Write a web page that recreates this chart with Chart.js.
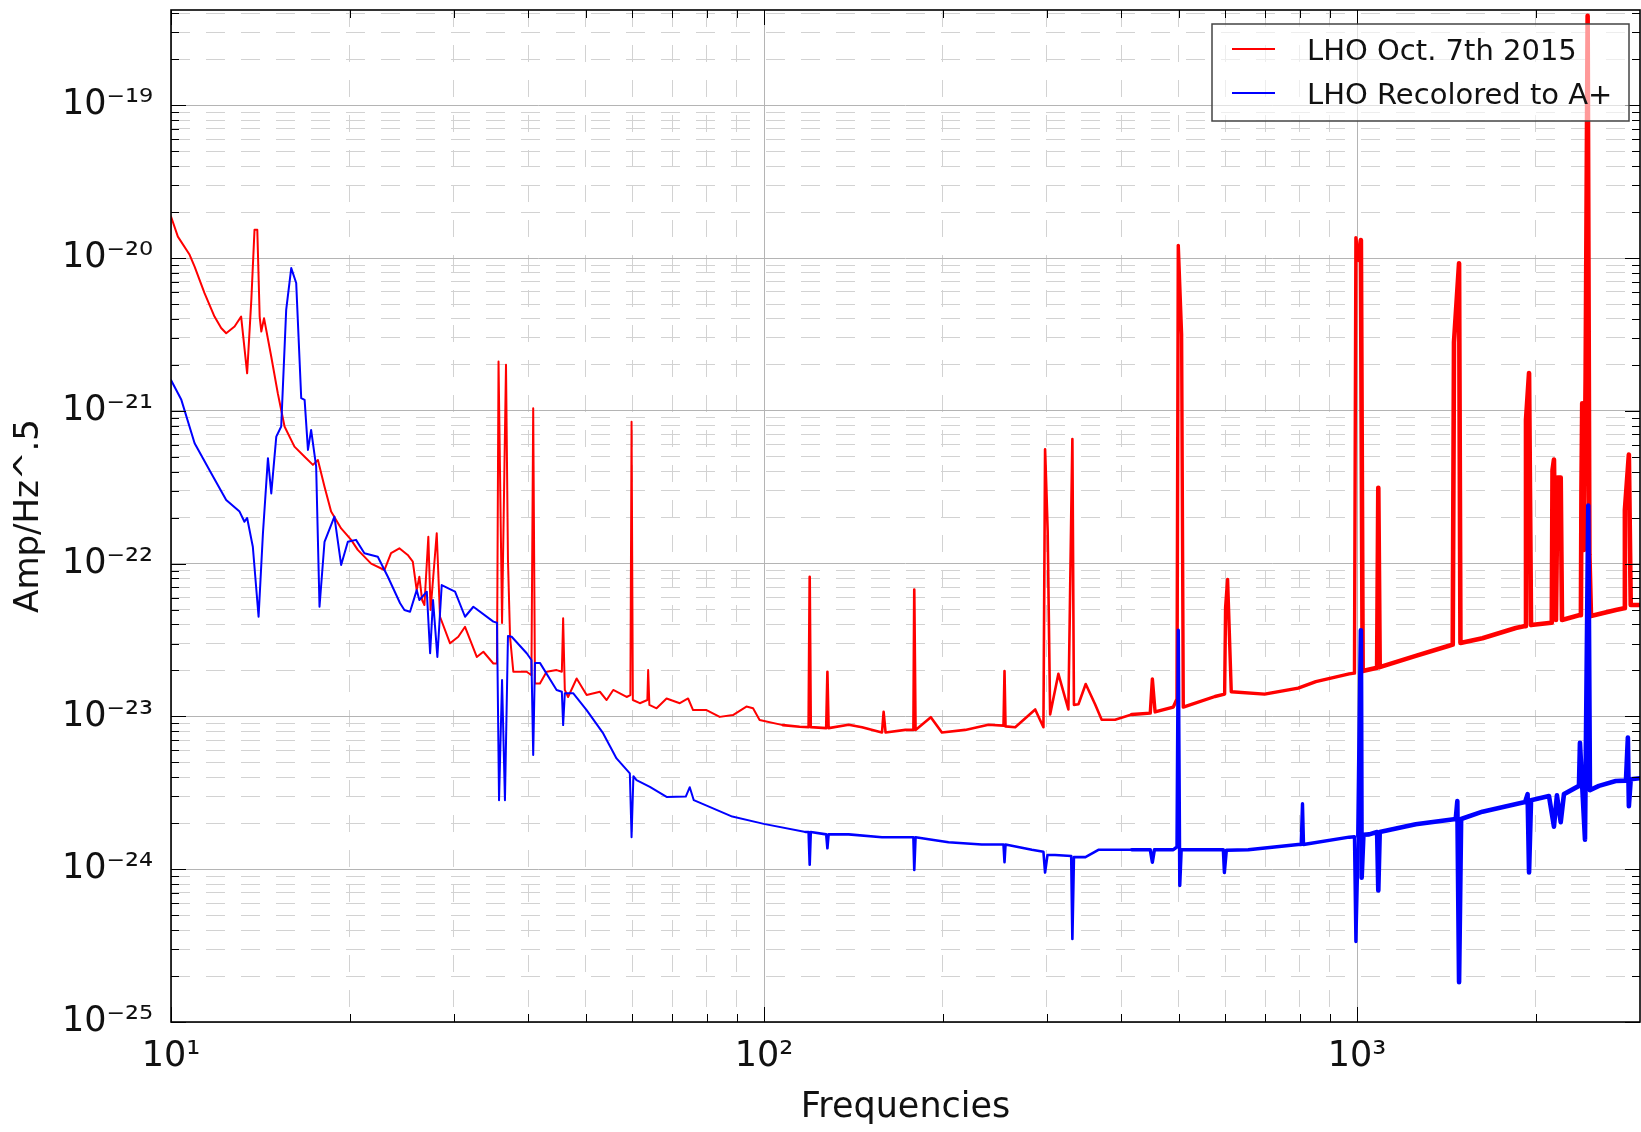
<!DOCTYPE html>
<html>
<head>
<meta charset="utf-8">
<script src="https://cdn.jsdelivr.net/npm/chart.js@4.4.1/dist/chart.umd.min.js"></script>
<style>
  html, body { margin: 0; padding: 0; background: #fff; }
  #wrap { width: 1641px; height: 1132px; }
</style>
</head>
<body>
<div id="wrap"><canvas id="asd" width="1641" height="1132"></canvas></div>
<script>
// ---- data (Hz, strain / sqrt(Hz)) ----
const redLabel = 'LHO Oct. 7th 2015';
const redFreq = [10.0, 10.27, 10.75, 10.96, 11.39, 11.84, 12.15, 12.39, 12.80, 13.13, 13.44, 13.66, 13.83, 13.98, 14.11, 14.20, 14.35, 14.76, 15.14, 15.54,
  16.15, 16.80, 17.35, 17.69, 18.15, 18.62, 19.36, 20.13, 20.65, 21.75, 22.90, 23.50, 24.27, 25.07, 25.57, 25.96, 26.23, 26.51, 26.75, 27.16,
  27.40, 28.06, 28.42, 29.55, 30.51, 31.32, 32.78, 33.63, 34.96, 35.46, 35.67, 36.16, 36.72, 37.0, 37.3, 37.78, 39.79, 40.53, 40.81, 41.09,
  41.89, 42.99, 44.69, 45.61, 45.84, 46.14, 46.73, 48.31, 50.22, 52.87, 54.27, 55.68, 58.65, 59.52, 59.79, 60.09, 61.74, 63.57, 63.77, 64.07,
  65.89, 68.5, 72.11, 74.47, 75.92, 79.99, 84.2, 88.64, 93.39, 95.83, 98.3, 107.6, 114.8, 118.9, 119.4, 119.9, 127.3, 127.9, 128.5, 138.9,
  146.3, 158.1, 159.1, 160.3, 173.1, 178.6, 179.2, 180.1, 191.1, 199.5, 218.4, 239.0, 253.4, 254.4, 255.4, 265.2, 286.6, 295.9, 297.8, 300.8,
  303.7, 313.6, 326.0, 331.1, 333.1, 339.0, 348.7, 361.6, 371.0, 390.8, 416.9, 448, 451.7, 456.5, 489.9, 497, 499.5, 506.0, 509.3, 576.0,
  598, 600.2, 604.9, 613.6, 698.3, 795.8, 852.1, 969.9, 990, 995.5, 1005, 1015, 1022, 1081, 1086, 1092, 1256, 1429, 1450, 1457,
  1486, 1494, 1627, 1852, 1920, 1927, 1950, 1965, 2107, 2130, 2136, 2148, 2165, 2178, 2205, 2216, 2367, 2385, 2390, 2397,
  2413, 2429, 2448, 2465, 2480, 2730, 2820, 2829, 2873, 2894, 3000];
const redAsd = [1.87e-20, 1.38e-20, 1.05e-20, 8.79e-21, 5.89e-21, 4.14e-21, 3.48e-21, 3.22e-21, 3.56e-21, 4.14e-21, 1.76e-21, 5.32e-21, 1.53e-20, 1.53e-20, 4.14e-21, 3.30e-21, 4.04e-21, 2.26e-21, 1.30e-21, 7.89e-22,
  5.83e-22, 5.01e-22, 4.43e-22, 4.77e-22, 3.19e-22, 2.19e-22, 1.70e-22, 1.43e-22, 1.23e-22, 1.00e-22, 9.08e-23, 1.17e-22, 1.26e-22, 1.14e-22, 1.03e-22, 6.71e-23, 8.20e-23, 5.78e-23, 5.36e-23, 1.50e-22,
  4.97e-23, 1.58e-22, 4.49e-23, 3.01e-23, 3.32e-23, 3.86e-23, 2.45e-23, 2.65e-23, 2.22e-23, 2.22e-23, 2.10e-21, 4.08e-23, 2.00e-21, 1.06e-22, 3.32e-23, 1.96e-23, 1.96e-23, 1.86e-23, 1.04e-21, 1.64e-23,
  1.64e-23, 1.96e-23, 2.01e-23, 1.96e-23, 4.39e-23, 1.49e-23, 1.34e-23, 1.77e-23, 1.38e-23, 1.45e-23, 1.28e-23, 1.49e-23, 1.34e-23, 1.38e-23, 8.49e-22, 1.28e-23, 1.22e-23, 1.28e-23, 2.01e-23, 1.19e-23,
  1.13e-23, 1.31e-23, 1.22e-23, 1.31e-23, 1.10e-23, 1.10e-23, 9.93e-24, 1.02e-23, 1.16e-23, 1.13e-23, 9.46e-24, 8.77e-24, 8.55e-24, 8.51e-24, 8.20e-23, 8.51e-24, 8.38e-24, 1.96e-23, 8.38e-24, 8.81e-24,
  8.49e-24, 7.85e-24, 1.07e-23, 7.85e-24, 8.16e-24, 8.16e-24, 6.76e-23, 8.16e-24, 9.89e-24, 7.85e-24, 8.16e-24, 8.81e-24, 8.70e-24, 1.98e-23, 8.60e-24, 8.49e-24, 1.11e-23, 8.49e-24, 5.60e-22, 1.63e-22,
  1.03e-23, 1.90e-23, 1.11e-23, 6.53e-22, 1.19e-23, 1.20e-23, 1.63e-23, 1.20e-23, 9.51e-24, 9.51e-24, 1.03e-23, 1.05e-23, 1.76e-23, 1.07e-23, 1.15e-23, 1.30e-23, 1.21e-20, 3.15e-21, 1.15e-23, 1.35e-23,
  1.40e-23, 5.16e-23, 7.89e-23, 1.45e-23, 1.40e-23, 1.53e-23, 1.69e-23, 1.90e-23, 1.92e-23, 1.36e-20, 9.73e-21, 1.31e-20, 1.98e-23, 2.08e-23, 3.14e-22, 2.10e-23, 2.49e-23, 2.90e-23, 2.95e-23, 2.81e-21,
  9.25e-21, 3.02e-23, 3.25e-23, 3.79e-23, 3.90e-23, 8.71e-22, 1.77e-21, 3.96e-23, 4.09e-23, 4.10e-23, 4.10e-22, 4.80e-22, 4.28e-23, 3.66e-22, 3.66e-22, 4.28e-23, 4.59e-23, 4.60e-23, 3.03e-22, 1.12e-21,
  1.23e-22, 1.64e-21, 3.85e-19, 1.14e-22, 4.54e-23, 4.97e-23, 5.10e-23, 2.24e-22, 5.17e-22, 5.36e-23, 5.36e-23];

const blueLabel = 'LHO Recolored to A+';
const blueFreq = [10.0, 10.41, 10.96, 11.69, 12.39, 13.05, 13.30, 13.44, 13.74, 14.05, 14.29, 14.57, 14.76, 15.05, 15.34, 15.64, 15.95, 16.26, 16.58, 16.80,
  17.02, 17.23, 17.57, 17.80, 18.15, 18.86, 19.36, 19.87, 20.51, 21.19, 22.32, 23.21, 24.34, 24.75, 25.30, 25.96, 26.23, 27.0, 27.35, 27.66,
  28.13, 28.61, 30.13, 31.32, 32.35, 34.96, 35.46, 35.74, 36.16, 36.57, 37.0, 37.54, 39.79, 40.53, 40.81, 41.09, 41.89, 44.69, 45.61, 45.84,
  46.14, 47.65, 50.22, 53.56, 56.40, 59.39, 59.79, 60.22, 60.95, 64.20, 68.5, 73.8, 74.95, 76.13, 88.4, 99.9, 117.5, 118.9, 119.4, 119.9,
  127.3, 127.9, 128.5, 138.9, 158.1, 171.9, 178.6, 179.2, 180.1, 191.9, 204.7, 232.9, 253.4, 254.4, 255.4, 282.9, 295.9, 297.8, 300.6, 309.6,
  329.6, 331.1, 333.1, 348.3, 366.3, 416.9, 448, 451.7, 455.3, 489.9, 497, 499.5, 502.4, 505.2, 539.9, 595, 597.4, 602, 655.5, 795.8,
  805, 809.1, 812.3, 969.9, 990, 995.5, 1005, 1015, 1018, 1025, 1048, 1081, 1086, 1092, 1256, 1467, 1476, 1486, 1498, 1627,
  1920, 1939, 1950, 1965, 2107, 2148, 2173, 2205, 2233, 2367, 2376, 2423, 2454, 2470, 2558, 2730, 2841, 2862, 2873, 2894, 3000];
const blueAsd = [1.59e-21, 1.18e-21, 6.14e-22, 3.90e-22, 2.61e-22, 2.19e-22, 1.88e-22, 1.99e-22, 1.29e-22, 4.49e-23, 1.58e-22, 4.90e-22, 2.88e-22, 6.78e-22, 7.89e-22, 4.58e-21, 8.59e-21, 6.86e-21, 1.21e-21, 1.18e-21,
  5.55e-22, 7.50e-22, 4.31e-22, 5.22e-23, 1.39e-22, 2.03e-22, 9.80e-23, 1.39e-22, 1.43e-22, 1.17e-22, 1.11e-22, 8.20e-23, 5.50e-23, 4.97e-23, 4.84e-23, 6.71e-23, 5.78e-23, 6.55e-23, 2.59e-23, 5.78e-23,
  2.45e-23, 7.24e-23, 6.55e-23, 4.49e-23, 5.22e-23, 4.17e-23, 4.10e-23, 2.83e-24, 1.73e-23, 2.83e-24, 3.36e-23, 3.32e-23, 2.59e-23, 2.34e-23, 5.59e-24, 2.24e-23, 2.24e-23, 1.49e-23, 1.45e-23, 8.77e-24,
  1.42e-23, 1.42e-23, 1.10e-23, 7.74e-24, 5.31e-24, 4.24e-24, 1.62e-24, 4.06e-24, 3.83e-24, 3.46e-24, 2.97e-24, 2.99e-24, 3.44e-24, 2.83e-24, 2.21e-24, 1.98e-24, 1.75e-24, 1.75e-24, 1.07e-24, 1.75e-24,
  1.69e-24, 1.37e-24, 1.69e-24, 1.69e-24, 1.62e-24, 1.62e-24, 1.62e-24, 9.87e-25, 1.62e-24, 1.56e-24, 1.50e-24, 1.45e-24, 1.45e-24, 1.11e-24, 1.45e-24, 1.34e-24, 1.30e-24, 9.51e-25, 1.24e-24, 1.24e-24,
  1.22e-24, 3.49e-25, 1.20e-24, 1.20e-24, 1.34e-24, 1.34e-24, 1.34e-24, 1.11e-24, 1.34e-24, 1.34e-24, 1.40e-24, 3.66e-23, 7.83e-25, 1.34e-24, 1.34e-24, 1.34e-24, 9.51e-25, 1.33e-24, 1.34e-24, 1.45e-24,
  1.45e-24, 2.68e-24, 1.45e-24, 1.62e-24, 1.63e-24, 3.36e-25, 1.65e-24, 3.66e-23, 8.79e-25, 1.68e-24, 1.69e-24, 1.75e-24, 7.25e-25, 1.75e-24, 1.97e-24, 2.13e-24, 2.79e-24, 1.82e-25, 2.13e-24, 2.38e-24,
  2.75e-24, 3.10e-24, 9.51e-25, 2.83e-24, 3.01e-24, 1.90e-24, 3.05e-24, 2.03e-24, 3.10e-24, 3.51e-24, 6.73e-24, 1.56e-24, 2.40e-22, 3.29e-24, 3.51e-24, 3.78e-24, 3.80e-24, 7.28e-24, 2.58e-24, 3.88e-24, 3.94e-24];

// axis ranges and decade ticks
const xMin = 10, xMax = 3000;
const yMin = 1e-25, yMax = 4.2e-19;
const xDecades = [10, 100, 1000];
const yDecades = [1e-25, 1e-24, 1e-23, 1e-22, 1e-21, 1e-20, 1e-19];
const minorSteps = [2, 3, 4, 5, 6, 7, 8, 9];

const FONT = 'DejaVu Sans';
const W = 1641, H = 1132;
const area = { left: 171, top: 10, right: 1640, bottom: 1022 };

const SUP = { '-': '\u207B', '0': '\u2070', '1': '\u00B9', '2': '\u00B2', '3': '\u00B3', '4': '\u2074',
  '5': '\u2075', '6': '\u2076', '7': '\u2077', '8': '\u2078', '9': '\u2079' };

function isDecade(v) {
  const l = Math.log10(v);
  return Math.abs(l - Math.round(l)) < 1e-6;
}
function powerLabel(v) {
  const e = String(Math.round(Math.log10(v)));
  return '10' + e.split('').map(c => SUP[c]).join('');
}
function logTicks(decades, max) {
  const out = [];
  decades.forEach(d => {
    out.push({ value: d, major: true });
    minorSteps.forEach(s => { if (d * s < max) out.push({ value: d * s, major: false }); });
  });
  return out;
}
function tickLabel(v) { return isDecade(v) ? powerLabel(v) : ''; }

// thicker trace where the spectrum is noisy
function traceWidth(f) {
  if (f < 100) return 2;
  if (f < 400) return 2.6;
  if (f < 1000) return 3.4;
  return 4.6;
}

const frameAndTicks = {
  id: 'frameAndTicks',
  afterDatasetsDraw(chart) {
    const { ctx, chartArea: a, scales } = chart;
    ctx.save();
    ctx.strokeStyle = '#000';
    ctx.lineWidth = 1;
    ctx.beginPath();
    scales.x.ticks.forEach(t => {
      const px = Math.round(scales.x.getPixelForValue(t.value)) + 0.5;
      const len = t.major ? 15 : 8;
      ctx.moveTo(px, a.bottom); ctx.lineTo(px, a.bottom - len);
      ctx.moveTo(px, a.top); ctx.lineTo(px, a.top + len);
    });
    scales.y.ticks.forEach(t => {
      const py = Math.round(scales.y.getPixelForValue(t.value)) + 0.5;
      const len = t.major ? 15 : 8;
      ctx.moveTo(a.left, py); ctx.lineTo(a.left + len, py);
      ctx.moveTo(a.right, py); ctx.lineTo(a.right - len, py);
    });
    ctx.stroke();
    ctx.lineWidth = 1.6;
    ctx.strokeRect(a.left, a.top, a.right - a.left, a.bottom - a.top);
    ctx.restore();
  }
};

const boxLegend = {
  id: 'boxLegend',
  afterDatasetsDraw(chart) {
    const ctx = chart.ctx;
    const box = { x: 1212, y: 24, w: 417, h: 97 };
    ctx.save();
    ctx.fillStyle = 'rgba(255,255,255,0.6)';
    ctx.fillRect(box.x, box.y, box.w, box.h);
    ctx.strokeStyle = '#444';
    ctx.lineWidth = 1.5;
    ctx.strokeRect(box.x, box.y, box.w, box.h);
    ctx.font = '29px "' + FONT + '"';
    ctx.textBaseline = 'alphabetic';
    ctx.textAlign = 'left';
    chart.data.datasets.forEach((ds, i) => {
      const ly = 49 + i * 44;
      ctx.strokeStyle = ds.borderColor;
      ctx.lineWidth = 2;
      ctx.beginPath();
      ctx.moveTo(1232, ly); ctx.lineTo(1275, ly);
      ctx.stroke();
      ctx.fillStyle = '#111';
      ctx.fillText(ds.label, 1307, ly + 10.5);
    });
    ctx.restore();
  }
};

function fixBox(size) {
  return scale => {
    if (scale.isHorizontal()) scale.height = size; else scale.width = size;
    scale.paddingLeft = 0; scale.paddingRight = 0;
    scale.paddingTop = 0; scale.paddingBottom = 0;
  };
}

const majorGrid = ctx => (ctx.tick && ctx.tick.major ? '#b4b4b4' : 'rgba(0,0,0,0)');
const minorGrid = ctx => (ctx.tick && !ctx.tick.major ? '#d2d2d2' : 'rgba(0,0,0,0)');

new Chart(document.getElementById('asd'), {
  type: 'line',
  data: {
    datasets: [{
      label: redLabel,
      data: redFreq.map((f, i) => ({ x: f, y: redAsd[i] })),
      borderColor: '#ff0000',
      borderWidth: 2,
      borderJoinStyle: 'round',
      borderCapStyle: 'round',
      pointRadius: 0,
      tension: 0,
      order: 1,
      segment: { borderWidth: c => traceWidth(c.p0.parsed.x) }
    }, {
      label: blueLabel,
      data: blueFreq.map((f, i) => ({ x: f, y: blueAsd[i] })),
      borderColor: '#0000ff',
      borderWidth: 2,
      borderJoinStyle: 'round',
      borderCapStyle: 'round',
      pointRadius: 0,
      tension: 0,
      order: 0,
      segment: { borderWidth: c => traceWidth(c.p0.parsed.x) }
    }]
  },
  options: {
    responsive: false,
    animation: false,
    devicePixelRatio: 1,
    layout: { padding: 0 },
    plugins: { legend: { display: false }, tooltip: { enabled: false } },
    scales: {
      x: {
        type: 'logarithmic', position: 'bottom', min: xMin, max: xMax,
        afterBuildTicks: s => { s.ticks = logTicks(xDecades, xMax); },
        afterFit: fixBox(H - area.bottom),
        grid: { color: majorGrid, lineWidth: 1, drawTicks: false },
        border: { display: false },
        ticks: {
          autoSkip: false, maxRotation: 0, padding: 14, color: '#111',
          font: { family: FONT, size: 35 },
          callback: v => tickLabel(v)
        },
        title: {
          display: true, text: 'Frequencies', color: '#111',
          font: { family: FONT, size: 35 }, padding: { top: 0, bottom: 3 }
        }
      },
      xMinor: {
        type: 'logarithmic', position: 'top', min: xMin, max: xMax,
        afterBuildTicks: s => { s.ticks = logTicks(xDecades, xMax); },
        afterFit: fixBox(area.top),
        grid: { color: minorGrid, lineWidth: 1, drawTicks: false },
        border: { display: false, dash: [17, 18] },
        ticks: { display: false }
      },
      y: {
        type: 'logarithmic', position: 'left', min: yMin, max: yMax,
        afterBuildTicks: s => { s.ticks = logTicks(yDecades, yMax); },
        afterFit: fixBox(area.left),
        grid: { color: majorGrid, lineWidth: 1, drawTicks: false },
        border: { display: false },
        ticks: {
          autoSkip: false, padding: 18, color: '#111',
          font: { family: FONT, size: 35 },
          callback: v => tickLabel(v)
        },
        title: {
          display: true, text: 'Amp/Hz^.5', color: '#111',
          font: { family: FONT, size: 34 }, padding: { top: 9, bottom: 0 }
        }
      },
      yMinor: {
        type: 'logarithmic', position: 'right', min: yMin, max: yMax,
        afterBuildTicks: s => { s.ticks = logTicks(yDecades, yMax); },
        afterFit: fixBox(W - area.right),
        grid: { color: minorGrid, lineWidth: 1, drawTicks: false },
        border: { display: false, dash: [19, 16] },
        ticks: { display: false }
      }
    }
  },
  plugins: [frameAndTicks, boxLegend]
});
</script>
</body>
</html>
